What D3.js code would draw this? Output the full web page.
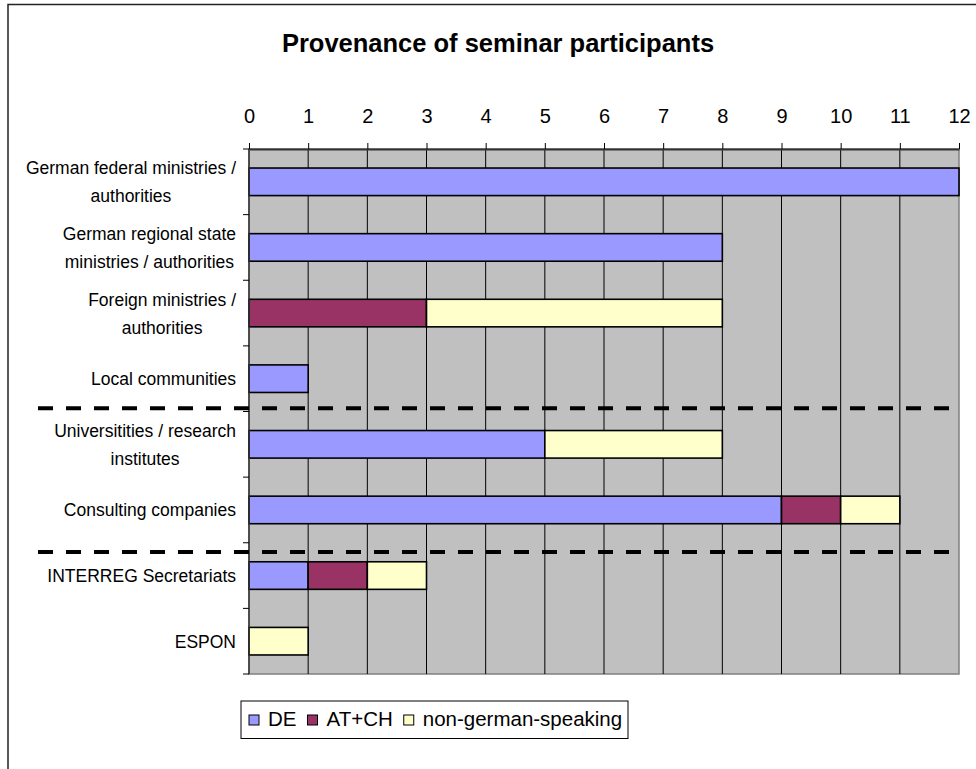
<!DOCTYPE html>
<html>
<head>
<meta charset="utf-8">
<script src="https://cdn.jsdelivr.net/npm/d3@7"></script>
<style>
  html, body { margin: 0; padding: 0; background: #fff; }
  svg { display: block; font-family: "Liberation Sans", Arial, sans-serif; }
</style>
</head>
<body>
<svg id="chart" width="976" height="769"></svg>
<script>
// Participant groups (label lines as they are broken on the chart)
const categories = [
  ["German federal ministries /", "authorities"],
  ["German regional state", "ministries / authorities"],
  ["Foreign ministries /", "authorities"],
  ["Local communities"],
  ["Universitities / research", "institutes"],
  ["Consulting companies"],
  ["INTERREG Secretariats"],
  ["ESPON"]
];
const seriesNames = ["DE", "AT+CH", "non-german-speaking"];
const seriesColors = ["#9999FF", "#993366", "#FFFFCC"];
const valuesDE      = [12, 8, 0, 1, 5, 9, 1, 0];
const valuesATCH    = [0, 0, 3, 0, 0, 1, 1, 0];
const valuesNonGer  = [0, 0, 5, 0, 3, 1, 1, 1];
const xTicks = [0, 1, 2, 3, 4, 5, 6, 7, 8, 9, 10, 11, 12];
// Group separators, in category-band units from the top
const separators = [3.95, 6.14];
const title = "Provenance of seminar participants";

const svg = d3.select("#chart");
const plot = { left: 249, right: 959, top: 149, bottom: 674 };

// Outer chart frame
svg.append("rect")
  .attr("x", 8).attr("y", 4.5).attr("width", 1000).attr("height", 800)
  .attr("fill", "#fff").attr("stroke", "#222").attr("stroke-width", 1.5);

svg.append("text")
  .attr("x", 498).attr("y", 52)
  .attr("text-anchor", "middle")
  .attr("font-size", 25.5).attr("font-weight", "bold")
  .text(title);

const x = d3.scaleLinear().domain([0, 12]).range([plot.left, plot.right]);
const y = d3.scaleBand().domain(d3.range(categories.length))
  .range([plot.top, plot.bottom]).paddingInner(0.58).paddingOuter(0.29);
const yPos = d3.scaleLinear().domain([0, categories.length]).range([plot.top, plot.bottom]);

// Plot background
svg.append("rect")
  .attr("x", plot.left).attr("y", plot.top)
  .attr("width", plot.right - plot.left).attr("height", plot.bottom - plot.top)
  .attr("fill", "#C0C0C0").attr("stroke", "#808080").attr("stroke-width", 1.5);

// Vertical gridlines
svg.append("g").selectAll("line")
  .data(xTicks.filter(t => t > 0 && t < 12))
  .join("line")
  .attr("x1", d => x(d)).attr("x2", d => x(d))
  .attr("y1", plot.top).attr("y2", plot.bottom)
  .attr("stroke", "#000").attr("stroke-width", 1);

// Stacked bars
const stackData = categories.map((c, i) => ({
  i, "DE": valuesDE[i], "AT+CH": valuesATCH[i], "non-german-speaking": valuesNonGer[i]
}));
const stacked = d3.stack().keys(seriesNames)(stackData);
svg.append("g").selectAll("g")
  .data(stacked)
  .join("g")
  .attr("fill", (d, k) => seriesColors[k])
  .selectAll("rect")
  .data(d => d.filter(s => s[1] > s[0]))
  .join("rect")
  .attr("x", d => x(d[0]))
  .attr("width", d => x(d[1]) - x(d[0]))
  .attr("y", d => y(d.data.i))
  .attr("height", y.bandwidth())
  .attr("stroke", "#000").attr("stroke-width", 1.6);

// Value axis on top
const xAxis = svg.append("g")
  .attr("transform", `translate(0,${plot.top})`)
  .call(d3.axisTop(x).tickValues(xTicks).tickSize(6).tickPadding(20).tickSizeOuter(0));
xAxis.select(".domain").attr("stroke", "#333").attr("stroke-width", 2);
xAxis.selectAll(".tick line").attr("stroke", "#000");
xAxis.selectAll(".tick text")
  .attr("font-size", 20).attr("fill", "#000")
  .attr("font-family", "Liberation Sans, Arial, sans-serif");

// Category axis on the left: ticks at band boundaries
const leftG = svg.append("g");
leftG.append("line")
  .attr("x1", plot.left).attr("x2", plot.left)
  .attr("y1", plot.top).attr("y2", plot.bottom)
  .attr("stroke", "#333").attr("stroke-width", 1.5);
leftG.selectAll("line.tick")
  .data(d3.range(categories.length + 1))
  .join("line").attr("class", "tick")
  .attr("x1", plot.left - 6).attr("x2", plot.left)
  .attr("y1", d => yPos(d)).attr("y2", d => yPos(d))
  .attr("stroke", "#000");

// Category labels: lines centred within a block right-aligned to the axis
const labelRight = plot.left - 13;
const lineH = 28;
categories.forEach((lines, i) => {
  const g = svg.append("g");
  const texts = lines.map(l => g.append("text")
    .attr("font-size", 17.5).attr("text-anchor", "middle").text(l));
  const w = d3.max(texts, t => t.node().getComputedTextLength());
  const cy = y(i) + y.bandwidth() / 2;
  const firstBase = cy - (lines.length - 1) * lineH / 2 + 6.5;
  texts.forEach((t, j) => t.attr("x", labelRight - w / 2).attr("y", firstBase + j * lineH));
});

// Dashed group separators
svg.append("g").selectAll("line")
  .data(separators)
  .join("line")
  .attr("x1", 38).attr("x2", 952)
  .attr("y1", d => yPos(d)).attr("y2", d => yPos(d))
  .attr("stroke", "#000").attr("stroke-width", 4)
  .attr("stroke-dasharray", "15,13");

// Legend
const legend = svg.append("g");
legend.append("rect")
  .attr("x", 241).attr("y", 701).attr("width", 387).attr("height", 37.5)
  .attr("fill", "#fff").attr("stroke", "#000").attr("stroke-width", 1);
let lx = 249;
seriesNames.forEach((name, k) => {
  legend.append("rect")
    .attr("x", lx).attr("y", 715).attr("width", 10).attr("height", 10)
    .attr("fill", seriesColors[k]).attr("stroke", "#000").attr("stroke-width", 1);
  const t = legend.append("text")
    .attr("x", lx + 19).attr("y", 726)
    .attr("font-size", 20.5).text(name);
  lx += 19 + t.node().getComputedTextLength() + 11;
});
</script>
</body>
</html>
